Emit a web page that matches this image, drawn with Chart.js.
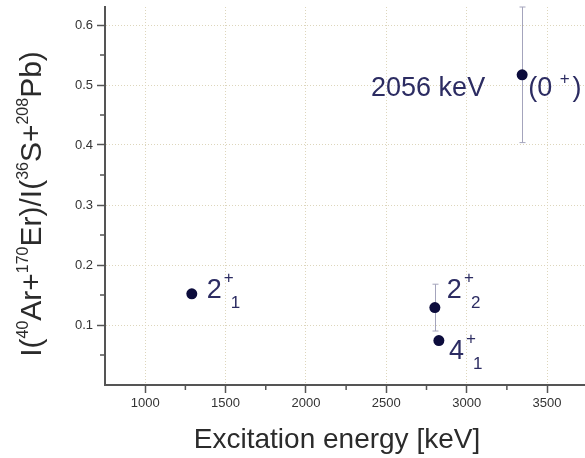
<!DOCTYPE html>
<html>
<head>
<meta charset="utf-8">
<script src="https://cdn.jsdelivr.net/npm/chart.js@4"></script>
<style>
  html, body { margin: 0; padding: 0; background: #ffffff; }
  #wrap { width: 585px; height: 458px; }
</style>
</head>
<body>
<div id="wrap"><canvas id="grafica" width="585" height="458"></canvas></div>
<script>
// ticks
const xTicks = [1000, 1500, 2000, 2500, 3000, 3500];
const xMinorTicks = [1250, 1750, 2250, 2750, 3250];
const yTicks = [0.1, 0.2, 0.3, 0.4, 0.5, 0.6];
const yMinorTicks = [0.05, 0.15, 0.25, 0.35, 0.45, 0.55];

// states: energy [keV], intensity ratio, error
const energia = [1290, 2802, 2827, 3345];
const cociente = [0.152, 0.129, 0.074, 0.517];
const errorCociente = [0, 0.039, 0, 0.113];
const espin = ['2', '2', '4', '0'];
const paridad = ['+', '+', '+', '+'];
const indice = ['1', '2', '1', ''];
const nota = ['', '', '', '2056 keV'];

const fuente = 'Arial, "Liberation Sans", sans-serif';
const colorTexto = '#2c2c62';

// where each state label sits relative to its point
const lugarEtiqueta = [
  { dx: 15, dy: 4 },
  { dx: 12, dy: -10 },
  { dx: 10, dy: 18 },
  { dx: 6, dy: 21, parentesis: true }
];

let puntos = [];
for (let i = 0; i < energia.length; i++) {
  puntos.push({ x: energia[i], y: cociente[i] });
}

const barrasError = {
  id: 'barrasError',
  beforeDatasetsDraw(chart) {
    const ctx = chart.ctx, x = chart.scales.x, y = chart.scales.y;
    ctx.save();
    ctx.strokeStyle = '#a4a4bc';
    ctx.lineWidth = 1;
    for (let i = 0; i < energia.length; i++) {
      if (!errorCociente[i]) continue;
      const px = Math.round(x.getPixelForValue(energia[i])) + 0.5;
      const top = y.getPixelForValue(cociente[i] + errorCociente[i]);
      const bot = y.getPixelForValue(cociente[i] - errorCociente[i]);
      ctx.beginPath();
      ctx.moveTo(px, top); ctx.lineTo(px, bot);
      ctx.moveTo(px - 3, top); ctx.lineTo(px + 3, top);
      ctx.moveTo(px - 3, bot); ctx.lineTo(px + 3, bot);
      ctx.stroke();
    }
    ctx.restore();
  }
};

const marcasMenores = {
  id: 'marcasMenores',
  afterDraw(chart) {
    const ctx = chart.ctx, x = chart.scales.x, y = chart.scales.y;
    const a = chart.chartArea;
    ctx.save();
    ctx.strokeStyle = '#555';
    ctx.lineWidth = 1.5;
    ctx.beginPath();
    for (let v of xMinorTicks) {
      const px = x.getPixelForValue(v);
      ctx.moveTo(px, a.bottom); ctx.lineTo(px, a.bottom + 5);
    }
    for (let v of yMinorTicks) {
      const py = y.getPixelForValue(v);
      ctx.moveTo(a.left, py); ctx.lineTo(a.left - 5, py);
    }
    ctx.stroke();
    ctx.restore();
  }
};

const etiquetas = {
  id: 'etiquetas',
  afterDatasetsDraw(chart) {
    const ctx = chart.ctx, x = chart.scales.x, y = chart.scales.y;
    const grande = '27px ' + fuente, chica = '17px ' + fuente;
    ctx.save();
    ctx.fillStyle = colorTexto;
    ctx.textBaseline = 'alphabetic';
    for (let i = 0; i < energia.length; i++) {
      const px = x.getPixelForValue(energia[i]);
      const py = y.getPixelForValue(cociente[i]);
      const l = lugarEtiqueta[i];
      let cx = px + l.dx, base = py + l.dy;
      ctx.textAlign = 'left';
      ctx.font = grande;
      if (l.parentesis) {
        ctx.fillText('(' + espin[i] + ' ', cx, base);
        cx += ctx.measureText('(' + espin[i] + ' ').width;
        ctx.font = chica;
        ctx.fillText(paridad[i], cx, base - 12);
        cx += ctx.measureText(paridad[i]).width + 3;
        ctx.font = grande;
        ctx.fillText(')', cx, base);
      } else {
        ctx.fillText(espin[i], cx, base);
        cx += ctx.measureText(espin[i]).width;
        ctx.font = chica;
        ctx.fillText(paridad[i], cx + 2, base - 15);
        ctx.fillText(indice[i], cx + 9, base + 10);
      }
      if (nota[i]) {
        ctx.font = grande;
        ctx.textAlign = 'right';
        ctx.fillText(nota[i], px - 37, py + l.dy);
      }
    }
    ctx.restore();
  }
};

const titulos = {
  id: 'titulos',
  afterDraw(chart) {
    const ctx = chart.ctx;
    ctx.save();
    ctx.fillStyle = '#2b2b2b';
    ctx.textBaseline = 'alphabetic';
    ctx.textAlign = 'center';
    ctx.font = '28px ' + fuente;
    ctx.fillText('Excitation energy [keV]', 337, 448);

    // y title with superscripts
    const partes = [['I(', 0], ['40', 1], ['Ar+', 0], ['170', 1], ['Er)/I(', 0],
                    ['36', 1], ['S+', 0], ['208', 1], ['Pb)', 0]];
    const fG = '30px ' + fuente, fC = '16px ' + fuente;
    let total = 0;
    for (let p of partes) {
      ctx.font = p[1] ? fC : fG;
      total += ctx.measureText(p[0]).width;
    }
    ctx.translate(41, 204);
    ctx.rotate(-Math.PI / 2);
    ctx.textAlign = 'left';
    let cx = -total / 2;
    for (let p of partes) {
      ctx.font = p[1] ? fC : fG;
      ctx.fillText(p[0], cx, p[1] ? -13 : 0);
      cx += ctx.measureText(p[0]).width;
    }
    ctx.restore();
  }
};

const borde = { display: true, color: '#555', width: 2, dash: [1, 2] };
const rejilla = {
  color: '#ddd6bc',
  lineWidth: 1,
  drawTicks: true,
  tickLength: 8,
  tickColor: '#555',
  tickWidth: 1.5,
  tickBorderDash: []
};

new Chart('grafica', {
  type: 'scatter',
  data: {
    datasets: [{
      data: puntos,
      pointRadius: 5.5,
      pointHoverRadius: 5.5,
      backgroundColor: '#0c0c3c',
      borderColor: '#0c0c3c',
      borderWidth: 0
    }]
  },
  plugins: [barrasError, etiquetas, marcasMenores, titulos],
  options: {
    responsive: false,
    animation: false,
    events: [],
    layout: { autoPadding: false, padding: { top: 7, left: 0, right: 0, bottom: 0 } },
    plugins: { legend: { display: false }, tooltip: { enabled: false } },
    scales: {
      x: {
        type: 'linear',
        min: 750,
        max: 3736,
        border: borde,
        grid: rejilla,
        afterBuildTicks: s => { s.ticks = xTicks.map(v => ({ value: v })); },
        afterFit: s => { s.height = 73; s.paddingLeft = 0; s.paddingRight = 0; },
        ticks: {
          color: '#333',
          font: { family: fuente, size: 13 },
          padding: 3,
          maxRotation: 0,
          callback: v => String(v)
        }
      },
      y: {
        type: 'linear',
        min: 0,
        max: 0.63,
        border: borde,
        grid: rejilla,
        afterBuildTicks: s => { s.ticks = yTicks.map(v => ({ value: v })); },
        afterFit: s => { s.width = 105; s.paddingTop = 0; s.paddingBottom = 0; },
        ticks: {
          color: '#333',
          font: { family: fuente, size: 13 },
          padding: 4,
          callback: v => v.toFixed(1)
        }
      }
    }
  }
});
</script>
</body>
</html>
